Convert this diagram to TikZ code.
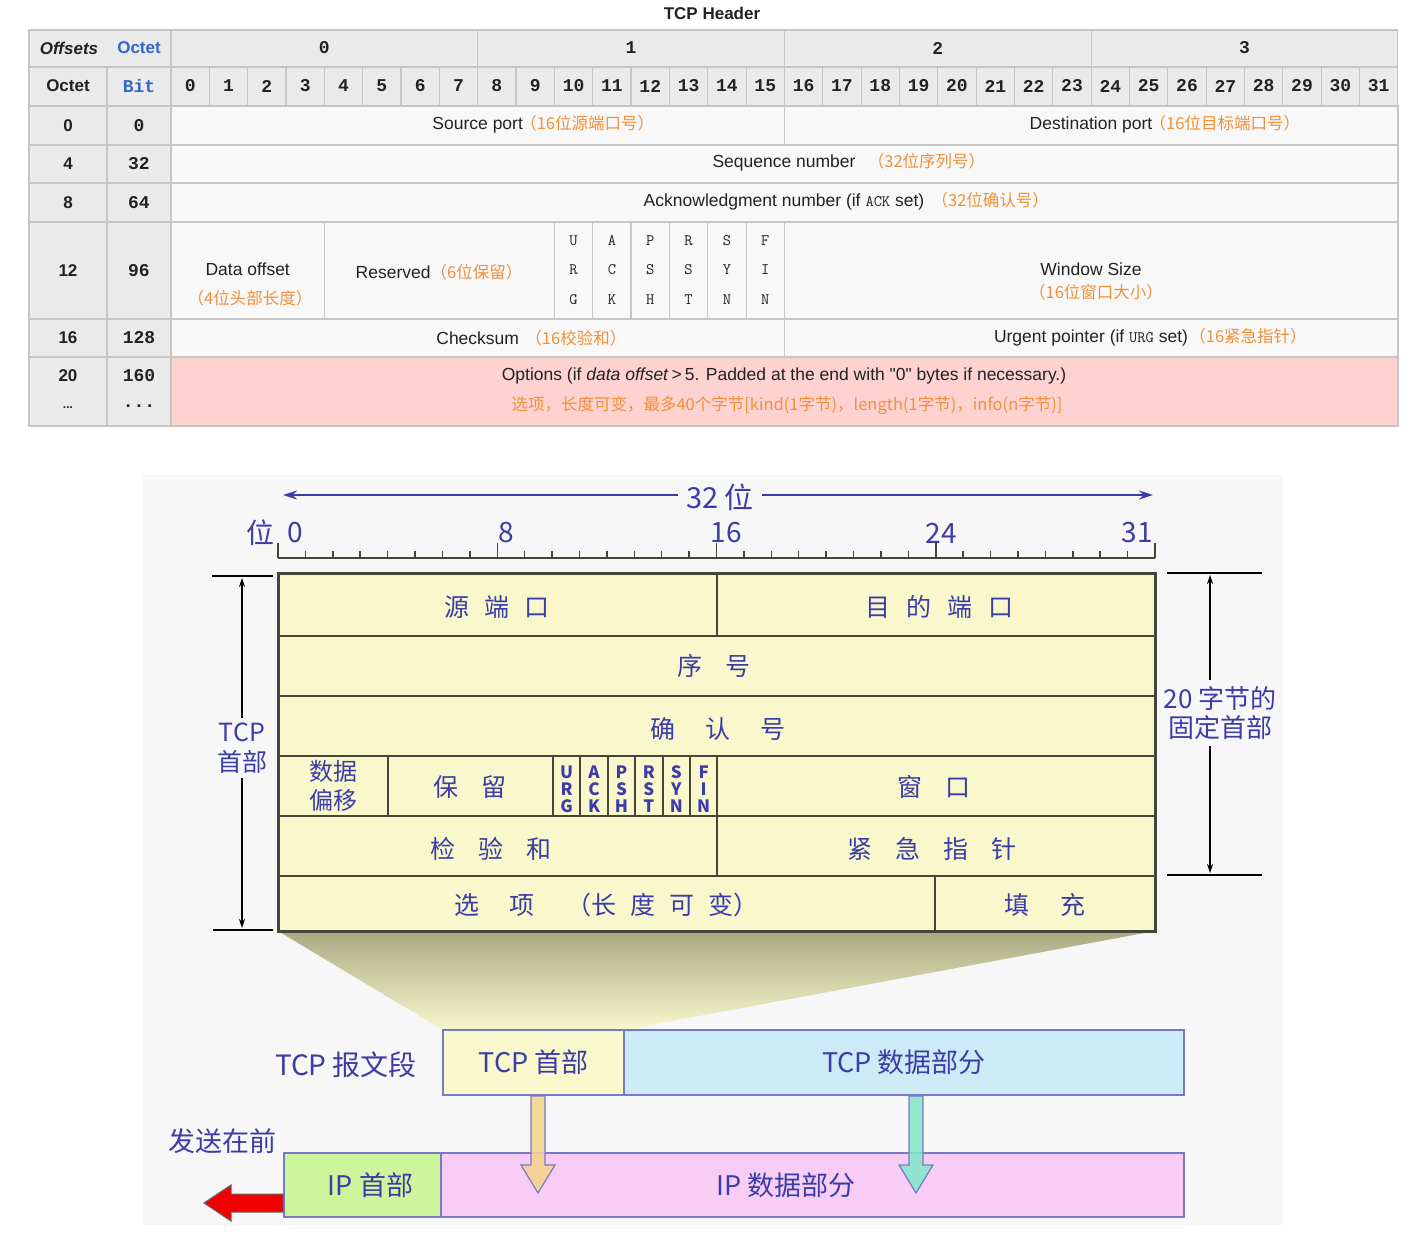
\documentclass[tikz,border=0pt]{standalone}
\usepackage{fontspec}
\setmainfont{Liberation Sans}
\newfontfamily\plainf{Liberation Sans}
\newfontfamily\cjk{Noto Sans CJK SC}
\newfontfamily\monof{Liberation Mono}
\usetikzlibrary{arrows.meta,calc}
\definecolor{tgrid}{HTML}{C6C6C6}
\definecolor{thead}{HTML}{EAEAEA}
\definecolor{tbody}{HTML}{F8F8F8}
\definecolor{tpink}{HTML}{FFD2D2}
\definecolor{torange}{HTML}{F0903A}
\definecolor{ttext}{HTML}{222222}
\definecolor{tblue}{HTML}{3366CC}
\definecolor{dblue}{HTML}{3C3CA8}
\definecolor{dbg}{HTML}{F7F7F7}
\definecolor{dyel}{HTML}{F9F8CC}
\definecolor{dline}{HTML}{45453A}
\definecolor{dbox}{HTML}{7878C8}
\definecolor{dcyan}{HTML}{CDEAF7}
\definecolor{dgreen}{HTML}{CDF59C}
\definecolor{dpink}{HTML}{F7CDF5}
\definecolor{trapTop}{HTML}{AAAA82}
\definecolor{trapBot}{HTML}{F8F8CE}
\definecolor{yarr}{HTML}{F5D48A}
\definecolor{carr}{HTML}{80E6C8}
\newcommand\myfs[1]{\fontsize{#1}{#1}\selectfont}
\newcommand\gp[1]{\hspace*{#1pt}}
\begin{document}
\begin{tikzpicture}[x=1pt,y=-1pt,
  hcell/.style={fill=thead,draw=tgrid,line width=1.2pt},
  bcell/.style={fill=tbody,draw=tgrid,line width=1.2pt},
  pcell/.style={fill=tpink,draw=tgrid,line width=1.2pt},
  tt/.style={inner sep=0pt,text=ttext,font=\myfs{17.5}},
  hb/.style={inner sep=0pt,text=ttext,font=\myfs{17}\bfseries},
  hm/.style={inner sep=0pt,text=ttext,font=\monof\myfs{18}\bfseries},
  orz/.style={inner sep=0pt,text=torange,font=\cjk\myfs{16.5},anchor=base west},
  orc/.style={inner sep=0pt,text=torange,font=\cjk\myfs{16.5}},
  fl/.style={inner sep=0pt,text=ttext,align=center,font=\ttfamily\fontsize{16}{29.5}\selectfont},
  dl/.style={inner sep=0pt,text=dblue,font=\cjk\myfs{25}},
  dnum/.style={inner sep=0pt,text=dblue,font=\cjk\myfs{28}},
  dflag/.style={inner sep=0pt,text=dblue,align=center,font=\cjk\bfseries\fontsize{17}{17}\selectfont},
  dbrk/.style={black,line width=1.2pt},
  darr/.style={black,line width=1.2pt,-{Stealth[length=9pt,width=6pt]}},
  dgrid/.style={dline,line width=2pt},
  dboxs/.style={draw=dbox,line width=2pt,inner sep=0pt,text=dblue,font=\cjk\myfs{27}},
]
\useasboundingbox (0,0) rectangle (1416,1246);
\fill[white] (0,0) rectangle (1416,1246);

% ================= TOP TABLE =================
\node[hb] (title) at (712,13) {TCP Header};

% header row 1
\path[hcell] (29,30) rectangle (171,67);
\node[hb,font=\myfs{17}\bfseries\itshape] (offs) at (69,48) {Offsets};
\node[hb,text=tblue] (octA) at (139,48) {Octet};
\foreach \i in {0,1,2,3} {
  \pgfmathsetmacro\xa{171+306.72*\i}
  \pgfmathsetmacro\xb{\xa+306.72}
  \pgfmathsetmacro\xc{\xa+153.36}
  \path[hcell] (\xa,30) rectangle (\xb,67);
  \node[hm] (byte\i) at (\xc,48) {\i};
}
% header row 2
\path[hcell] (29,67) rectangle (107,106);
\node[hb] (octB) at (68,86) {Octet};
\path[hcell] (107,67) rectangle (171,106);
\node[hm,text=tblue] (bitL) at (139,86) {Bit};
\foreach \i in {0,...,31} {
  \pgfmathsetmacro\xa{171+38.34*\i}
  \pgfmathsetmacro\xb{\xa+38.34}
  \pgfmathsetmacro\xc{\xa+19.17}
  \path[hcell] (\xa,67) rectangle (\xb,106);
  \node[hm] (bit\i) at (\xc,86) {\i};
}
% left columns
\foreach \o/\b/\ya/\yb in {0/0/106/145,4/32/145/183,8/64/183/222,12/96/222/319,16/128/319/357} {
  \path[hcell] (29,\ya) rectangle (107,\yb);
  \path[hcell] (107,\ya) rectangle (171,\yb);
  \pgfmathsetmacro\yc{(\ya+\yb)/2}
  \node[hb] (oc\o) at (68,\yc) {\o};
  \node[hm] (bo\b) at (139,\yc) {\b};
}
\path[hcell] (29,357) rectangle (107,426);
\path[hcell] (107,357) rectangle (171,426);
\node[hb] (oc20) at (68,376) {20};
\node[hb,font=\myfs{12}\bfseries] (ocdots) at (68,408) {...};
\node[hm] (bo160) at (139,376) {160};
\node[hm] (bodots) at (139,406) {...};

% body cells
\path[bcell] (171,106) rectangle (784.4,145);
\path[bcell] (784.4,106) rectangle (1398,145);
\path[bcell] (171,145) rectangle (1398,183);
\path[bcell] (171,183) rectangle (1398,222);
\path[bcell] (171,222) rectangle (324.4,319);
\path[bcell] (324.4,222) rectangle (554.4,319);
\foreach \k in {0,...,5} {
  \pgfmathsetmacro\xa{554.4+38.34*\k}
  \pgfmathsetmacro\xb{\xa+38.34}
  \path[bcell] (\xa,222) rectangle (\xb,319);
}
\path[bcell] (784.4,222) rectangle (1398,319);
\path[bcell] (171,319) rectangle (784.4,357);
\path[bcell] (784.4,319) rectangle (1398,357);
\path[pcell] (171,357) rectangle (1398,426);

% body texts
\node[tt] (sport) at (477.7,125) {Source port};
\node[orz] (sportc) at ([xshift=-3pt]sport.base east) {（16位源端口号）};
\node[tt] (dport) at (1091,125) {Destination port};
\node[orz] (dportc) at ([xshift=-3pt]dport.base east) {（16位目标端口号）};
\node[tt] (seq) at (784,163) {Sequence number};
\node[orz] (seqc) at ([xshift=12pt]seq.base east) {（32位序列号）};
\node[tt] (ack) at (784,202) {Acknowledgment number (if {\ttfamily\myfs{16}ACK} set)};
\node[orz] (ackc) at ([xshift=7pt]ack.base east) {（32位确认号）};
\node[tt] (doff) at (247.7,269) {Data offset};
\node[orc] (doffc) at (250,298) {（4位头部长度）};
\node[tt] (resv) at (439,272) {Reserved{\cjk\color{torange}\myfs{16.5}（6位保留）}};
\foreach \k/\t in {0/{U\\R\\G},1/{A\\C\\K},2/{P\\S\\H},3/{R\\S\\T},4/{S\\Y\\N},5/{F\\I\\N}} {
  \pgfmathsetmacro\xc{554.4+38.34*\k+19.17}
  \node[fl] (tflag\k) at (\xc,270) {\t};
}
\node[tt] (win) at (1091,269) {Window Size};
\node[orc] (winc) at (1096,292) {（16位窗口大小）};
\node[tt] (cks) at (477.7,338) {Checksum};
\node[orz] (cksc) at ([xshift=6pt]cks.base east) {（16校验和）};
\node[tt] (urg) at (1091,338) {Urgent pointer (if {\ttfamily\myfs{16}URG} set)};
\node[orz] (urgc) at ([xshift=1pt]urg.base east) {（16紧急指针）};
\node[tt] (opt) at (784,376) {Options (if \textit{data offset}\,>\,5. Padded at the end with {\plainf"0"} bytes if necessary.)};
\node[orc] (optc) at (787,406) {选项，长度可变，最多40个字节[kind(1字节)，length(1字节)，info(n字节)]};

% ================= BOTTOM DIAGRAM =================
\fill[dbg] (143,475) rectangle (1283,1225);

% 32 bit arrow
\node[dl,font=\cjk\myfs{29},fill=dbg,inner xsep=8pt] (w32) at (720,497) {32 位};
\coordinate (wl) at (283,495);
\coordinate (wr) at (1153,495);
\draw[dblue,line width=1.5pt,-{Stealth[length=14pt,width=9pt]}] (w32.west |- wl) -- (wl);
\draw[dblue,line width=1.5pt,-{Stealth[length=14pt,width=9pt]}] (w32.east |- wr) -- (wr);

% ruler
\node[dl,font=\cjk\myfs{28}] (wei) at (260,533) {位};
\draw[dline,line width=1.5pt] (278,558) -- (1155,558);
\foreach \i in {0,...,32} {
  \pgfmathsetmacro\xt{278+27.406*\i}
  \pgfmathtruncatemacro\mm{mod(\i,8)}
  \ifnum\mm=0
    \draw[dline,line width=1.5pt] (\xt,543) -- (\xt,558);
  \else
    \draw[dline,line width=1.5pt] (\xt,551) -- (\xt,558);
  \fi
}
\node[dnum] (r0) at (295,533) {0};
\node[dnum] (r8) at (506,533) {8};
\node[dnum] (r16) at (726,533) {16};
\node[dnum] (r24) at (941,533) {24};
\node[dnum] (r31) at (1137,533) {31};

% trapezoid
\shade[top color=trapTop,bottom color=trapBot,middle color=trapTop!50!trapBot] (278,931) -- (1155,931) -- (624,1030) -- (443,1030) -- cycle;

% header table
\fill[dyel] (278,573) rectangle (1155,931);
\foreach \y in {636,696,756,816,876} { \draw[dgrid] (278,\y) -- (1155,\y); }
\draw[dgrid] (716.5,573) -- (716.5,636);
\foreach \x in {388,553,580.4,607.8,635.2,662.6,690,717.4} { \draw[dgrid] (\x,756) -- (\x,816); }
\draw[dgrid] (717.4,816) -- (717.4,876);
\draw[dgrid] (935,876) -- (935,931);
\draw[dline,line width=3pt] (278,573) rectangle (1155,931);

\node[dl] (srcp) at (497,607) {源\gp{15}端\gp{15}口};
\node[dl] (dstp) at (939,607) {目\gp{16}的\gp{16}端\gp{16}口};
\node[dl] (seqn) at (714,666) {序\gp{23}号};
\node[dl] (ackn) at (718,729) {确\gp{30}认\gp{30}号};
\node[dl,align=center,font=\cjk\fontsize{24}{29}\selectfont] (dofs) at (333,786) {数据\\偏移};
\node[dl] (rsv) at (470,787) {保\gp{23}留};
\foreach \k/\t in {0/{U\\R\\G},1/{A\\C\\K},2/{P\\S\\H},3/{R\\S\\T},4/{S\\Y\\N},5/{F\\I\\N}} {
  \pgfmathsetmacro\xc{553+27.4*\k+13.7}
  \node[dflag] (bflag\k) at (\xc,789) {\t};
}
\node[dl] (wnd) at (934,787) {窗\gp{23}口};
\node[dl] (chk) at (491,849) {检\gp{23}验\gp{23}和};
\node[dl] (urgp) at (932,849) {紧\gp{23}急\gp{23}指\gp{23}针};
\node[dl] (opts) at (606,905) {选\gp{30}项\gp{32}（长\gp{14}度\gp{14}可\gp{14}变）};
\node[dl] (pad) at (1045,905) {填\gp{31}充};

% left bracket
\draw[dbrk] (212,576) -- (273,576);
\draw[dbrk] (213,930) -- (273,930);
\node[dl,align=center,font=\cjk\fontsize{25}{30}\selectfont,inner sep=4pt] (tcph) at (242,748) {TCP\\首部};
\coordinate (lt) at (242,578);
\coordinate (lb) at (242,928);
\draw[darr] (tcph.north) -- (lt);
\draw[darr] (tcph.south) -- (lb);

% right bracket
\draw[dbrk] (1167,573) -- (1262,573);
\draw[dbrk] (1167,875) -- (1262,875);
\node[dl,align=center,font=\cjk\fontsize{26}{29}\selectfont,inner sep=6pt] (fixh) at (1220,713) {20 字节的\\固定首部};
\coordinate (rt) at (1210,575);
\coordinate (rb) at (1210,873);
\draw[darr] (fixh.north -| rt) -- (rt);
\draw[darr] (fixh.south -| rb) -- (rb);

% segment boxes
\node[dboxs,fill=dyel,minimum width=181,minimum height=65] (tcphdr) at (533.5,1062.5) {TCP 首部};
\node[dboxs,fill=dcyan,minimum width=560,minimum height=65] (tcpdata) at (904,1062.5) {TCP 数据部分};
\node[dl,font=\cjk\myfs{28}] (seg) at (346,1065) {TCP 报文段};
\node[dboxs,fill=dgreen,minimum width=157,minimum height=64] (iphdr) at (362.5,1185) {\hspace*{16pt}IP 首部};
\node[dboxs,fill=dpink,minimum width=743,minimum height=64] (ipdata) at (812.5,1185) {};
\node[dl,font=\cjk\myfs{27}] (ipdt) at (786,1185) {IP 数据部分};
\node[dl,font=\cjk\myfs{27}] (first) at (222,1141) {发送在前};

% down arrows
\filldraw[fill=yarr,draw=dbox,line width=1.2pt,fill opacity=0.85] ([xshift=-2.5pt]tcphdr.south) -- ++(14,0) -- ++(0,69) -- ++(10,0) -- ++(-17,28) -- ++(-17,-28) -- ++(10,0) -- cycle;
\filldraw[fill=carr,draw=dbox,line width=1.2pt,fill opacity=0.85] ([xshift=5pt]tcpdata.south) -- ++(14,0) -- ++(0,69) -- ++(10,0) -- ++(-17,28) -- ++(-17,-28) -- ++(10,0) -- cycle;

% red arrow
\filldraw[fill=red!95!black,draw=black!60,line width=1pt] ([yshift=-9pt]iphdr.west) -- ++(-52,0) -- ++(0,-9) -- ++(-27,18) -- ++(27,18) -- ++(0,-9) -- ++(52,0) -- cycle;
\end{tikzpicture}
\end{document}
